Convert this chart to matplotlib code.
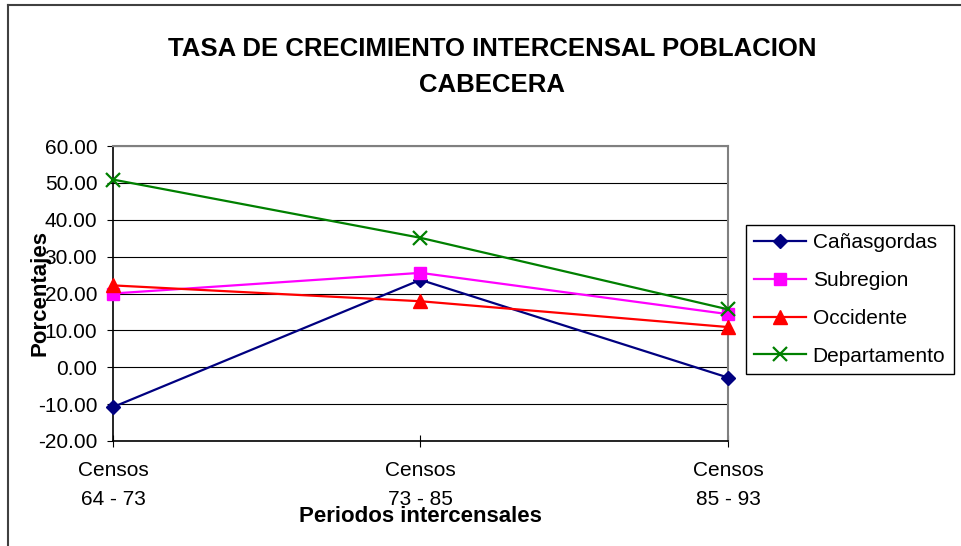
import matplotlib
matplotlib.use("Agg")
import matplotlib.pyplot as plt
from matplotlib.lines import Line2D
from matplotlib.ticker import FormatStrFormatter

plt.rcParams['font.family'] = ['Liberation Sans', 'DejaVu Sans']

periods = ["Censos\n64 - 73", "Censos\n73 - 85", "Censos\n85 - 93"]
canasgordas = [-10.8, 23.7, -2.8]
subregion = [20.0, 25.6, 14.4]
occidente = [22.2, 17.9, 10.9]
departamento = [50.9, 35.1, 15.7]

series = [
    ("Cañasgordas", canasgordas, "#000080", "D", 7, "#000080"),
    ("Subregion", subregion, "#FF00FF", "s", 8, "#FF00FF"),
    ("Occidente", occidente, "#FF0000", "^", 9.5, "#FF0000"),
    ("Departamento", departamento, "#008000", "x", 10, "#008000"),
]

W, H = 961, 546
fig = plt.figure(figsize=(W / 100, H / 100), dpi=100)
fig.patch.set_facecolor("white")

left, right, top, bottom = 113, 728, 146, 441
ax = fig.add_axes([left / W, 1 - bottom / H, (right - left) / W, (bottom - top) / H])

x = list(range(len(periods)))
for name, vals, col, mk, ms, mc in series:
    ax.plot(x, vals, color=col, lw=1.6, marker=mk, markersize=ms,
            markerfacecolor=mc, markeredgecolor=mc, markeredgewidth=1.6 if mk == "x" else 1,
            label=name, zorder=3, clip_on=False)

ax.set_xlim(0, 2)
ax.set_ylim(-20, 60)
ax.set_yticks(range(-20, 61, 10))
ax.yaxis.set_major_formatter(FormatStrFormatter("%.2f"))
ax.set_xticks(x)
ax.set_xticklabels(periods, linespacing=1.65)

ax.grid(axis="y", color="black", lw=0.8)
ax.set_axisbelow(True)

for s in ["top", "right"]:
    ax.spines[s].set_color("#808080")
    ax.spines[s].set_linewidth(1.5)
for s in ["left", "bottom"]:
    ax.spines[s].set_color("black")
    ax.spines[s].set_linewidth(1.2)

ax.tick_params(axis="y", direction="out", length=4.3, width=0.8, pad=7, labelsize=15)
ax.tick_params(axis="x", direction="inout", length=8.6, width=0.8, pad=10, labelsize=15)

ax.set_ylabel("Porcentajes", fontsize=16, fontweight="bold", ha="center", va="center")
ax.yaxis.set_label_coords((40 - left) / (right - left), 0.5)
ax.set_xlabel("Periodos intercensales", fontsize=16, fontweight="bold", ha="center", va="center")
ax.xaxis.set_label_coords(0.5, -(516 - bottom) / (bottom - top))

fig.text(492 / W, 1 - 67 / H, "TASA DE CRECIMIENTO INTERCENSAL POBLACION\nCABECERA",
         ha="center", va="center", fontsize=18.5, fontweight="bold", linespacing=1.6)

leg = ax.legend(loc="upper left", bbox_to_anchor=(746 / W, 1 - 225 / H),
                bbox_transform=fig.transFigure, fontsize=15, frameon=True, fancybox=False,
                edgecolor="black", framealpha=1, borderaxespad=0, borderpad=0.4,
                handlelength=2.5, handletextpad=0.3, labelspacing=0.9)
leg.get_frame().set_linewidth(1.0)

# chart area border (top and left visible)
fig.add_artist(Line2D([8 / W, 1], [1 - 5 / H, 1 - 5 / H], transform=fig.transFigure,
                      color="#404040", lw=1.5))
fig.add_artist(Line2D([8 / W, 8 / W], [0, 1 - 5 / H], transform=fig.transFigure,
                      color="#404040", lw=1.5))

fig.savefig("out.png", dpi=100)
